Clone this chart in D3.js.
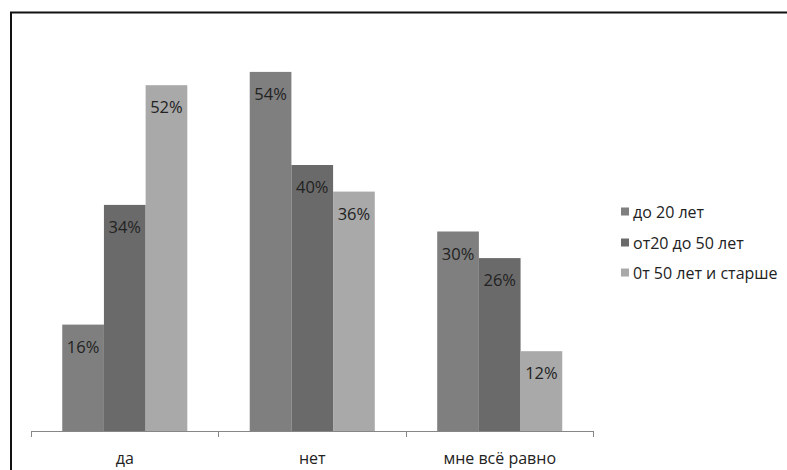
<!DOCTYPE html>
<html>
<head>
<meta charset="utf-8">
<script src="https://cdn.jsdelivr.net/npm/d3@7"></script>
<style>
  html, body { margin: 0; padding: 0; background: #fff; }
  svg { display: block; }
</style>
</head>
<body>
<svg id="chart" width="787" height="470"></svg>
<script>
// Answer categories and age groups
const categories = ["да", "нет", "мне всё равно"];
const seriesNames = ["до 20 лет", "от20 до 50 лет", "0т 50 лет и старше"];
const seriesColors = ["#7f7f7f", "#6a6a6a", "#a9a9a9"];

// Percentages per age group, in category order
const under20 = [16, 54, 30];
const from20to50 = [34, 40, 26];
const over50 = [52, 36, 12];
const seriesValues = [under20, from20to50, over50];

const svg = d3.select("#chart");
const font = "'Open Sans', 'DejaVu Sans', sans-serif";

// Outer frame (top and left edges)
svg.append("path")
  .attr("d", "M11,470 V12.5 H787")
  .attr("fill", "none")
  .attr("stroke", "#111")
  .attr("stroke-width", 2);

const plot = { left: 31, right: 593.5, top: 32, bottom: 431 };

const x0 = d3.scaleBand()
  .domain(categories)
  .range([plot.left, plot.right])
  .paddingInner(0.333)
  .paddingOuter(0.1667);

const x1 = d3.scaleBand()
  .domain(d3.range(seriesNames.length))
  .range([0, x0.bandwidth()])
  .padding(0);

const y = d3.scaleLinear().domain([0, 60]).range([plot.bottom, plot.top]);

const rows = categories.map((c, i) => ({
  cat: c,
  vals: seriesValues.map((s, k) => ({ k, v: s[i] }))
}));

const groups = svg.append("g").selectAll("g")
  .data(rows).join("g")
  .attr("transform", d => `translate(${x0(d.cat)},0)`);

groups.selectAll("rect")
  .data(d => d.vals).join("rect")
  .attr("x", d => x1(d.k))
  .attr("y", d => y(d.v))
  .attr("width", x1.bandwidth())
  .attr("height", d => y(0) - y(d.v))
  .attr("fill", d => seriesColors[d.k]);

groups.selectAll("text")
  .data(d => d.vals).join("text")
  .attr("x", d => x1(d.k) + x1.bandwidth() / 2)
  .attr("y", d => y(d.v) + 28)
  .attr("text-anchor", "middle")
  .attr("font-family", font)
  .attr("font-size", 16.5)
  .attr("fill", "#222")
  .text(d => d.v + "%");

// Category axis with boundary ticks between groups
const axisG = svg.append("g");
axisG.append("line")
  .attr("x1", plot.left).attr("x2", plot.right)
  .attr("y1", plot.bottom + 0.5).attr("y2", plot.bottom + 0.5)
  .attr("stroke", "#868686").attr("stroke-width", 1);

const step = x0.step();
const tickXs = d3.range(categories.length + 1).map(i => plot.left + i * step);
axisG.selectAll("line.tick")
  .data(tickXs).join("line")
  .attr("class", "tick")
  .attr("x1", d => Math.round(d) + 0.5).attr("x2", d => Math.round(d) + 0.5)
  .attr("y1", plot.bottom).attr("y2", plot.bottom + 6)
  .attr("stroke", "#868686");

axisG.selectAll("text")
  .data(categories).join("text")
  .attr("x", d => x0(d) + x0.bandwidth() / 2)
  .attr("y", 464)
  .attr("text-anchor", "middle")
  .attr("font-family", font)
  .attr("font-size", 16)
  .attr("fill", "#222")
  .text(d => d);

// Legend
const legend = svg.append("g").attr("transform", "translate(621,0)");
const legendYs = [212, 243, 273];
const items = legend.selectAll("g")
  .data(seriesNames).join("g")
  .attr("transform", (d, i) => `translate(0,${legendYs[i]})`);
items.append("rect")
  .attr("x", 0).attr("y", -4.5)
  .attr("width", 8).attr("height", 8)
  .attr("fill", (d, i) => seriesColors[i]);
items.append("text")
  .attr("x", 12).attr("y", 5.5)
  .attr("font-family", font)
  .attr("font-size", 16)
  .attr("fill", "#222")
  .text(d => d);
</script>
</body>
</html>
